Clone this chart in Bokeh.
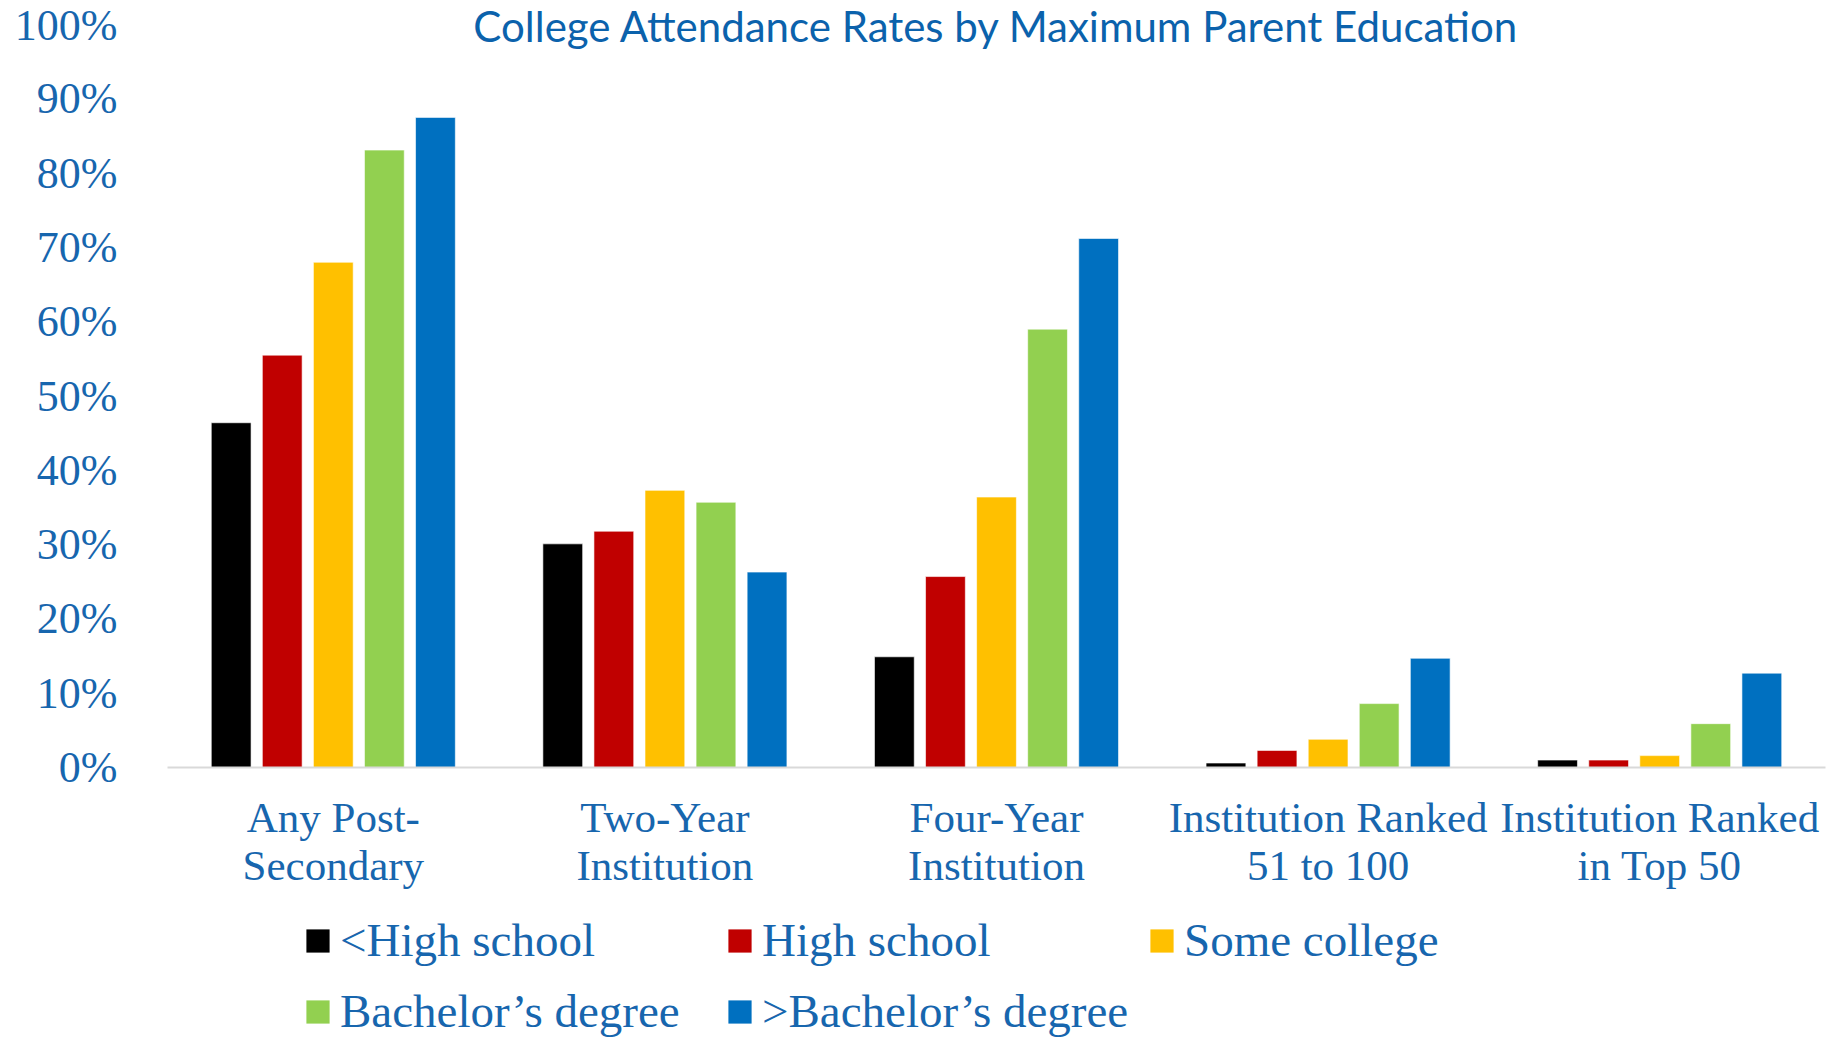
from bokeh.plotting import figure
from bokeh.layouts import column
from bokeh.models import Range1d, FixedTicker, Label, Legend, LegendItem, ColumnDataSource
from bokeh.embed import file_html
from bokeh.resources import INLINE

# ---------------- data ----------------
categories = [
    "Any Post-\nSecondary",
    "Two-Year\nInstitution",
    "Four-Year\nInstitution",
    "Institution Ranked\n51 to 100",
    "Institution Ranked\nin Top 50",
]
series_names = ["<High school", "High school", "Some college",
                "Bachelor\u2019s degree", ">Bachelor\u2019s degree"]
less_than_hs = [46.4, 30.1, 14.9, 0.6, 1.0]
high_school = [55.5, 31.8, 25.7, 2.3, 1.0]
some_college = [68.0, 37.3, 36.4, 3.8, 1.6]
bachelors = [83.1, 35.7, 59.0, 8.6, 5.9]
above_bachelors = [87.5, 26.3, 71.2, 14.7, 12.7]
series_colors = ["#000000", "#C00000", "#FFC000", "#92D050", "#0070C0"]
y_ticks = [0, 10, 20, 30, 40, 50, 60, 70, 80, 90, 100]
y_tick_labels = ["0%", "10%", "20%", "30%", "40%", "50%", "60%", "70%", "80%", "90%", "100%"]
title_text = "College Attendance Rates by Maximum Parent Education"

TEXT = "#1766AE"
SERIF = "Liberation Serif"

W = 1831
H_MAIN = 910
H_LEG = 128
PX = 7.43                 # pixels per percentage point
Y_TOP = 100 + 24 / PX     # frame top sits 24px above the 100% line

p = figure(width=W, height=H_MAIN, output_backend="svg", toolbar_location=None,
           x_range=Range1d(0, len(categories)), y_range=Range1d(0, Y_TOP),
           min_border_left=167, min_border_right=6, min_border_top=0,
           min_border_bottom=H_MAIN - 767)
p.outline_line_color = None
p.xgrid.grid_line_color = None
p.ygrid.grid_line_color = None
p.background_fill_color = "white"
p.border_fill_color = "white"

all_series = [less_than_hs, high_school, some_college, bachelors, above_bachelors]
pitch = 0.154
bar_w = 0.12
renderers = []
for j, (vals, col) in enumerate(zip(all_series, series_colors)):
    xs = [i + 0.5 + (j - 2) * pitch for i in range(len(categories))]
    src = ColumnDataSource(dict(x=xs, top=vals))
    r = p.vbar(x="x", top="top", bottom=0, width=bar_w, source=src,
               fill_color=col, line_color="white", line_width=0.6)
    renderers.append(r)

# x axis
xa = p.xaxis[0]
xa.ticker = FixedTicker(ticks=[i + 0.5 for i in range(len(categories))])
xa.major_label_overrides = {i + 0.5: c for i, c in enumerate(categories)}
xa.major_tick_line_color = None
xa.minor_tick_line_color = None
xa.axis_line_color = "#D9D9D9"
xa.axis_line_width = 2
xa.major_label_text_font = SERIF
xa.major_label_text_font_size = "43px"
xa.major_label_text_line_height = 1.04
xa.major_label_text_color = TEXT
xa.major_label_standoff = 20

# y axis
ya = p.yaxis[0]
ya.ticker = FixedTicker(ticks=y_ticks)
ya.major_label_overrides = {t: l for t, l in zip(y_ticks, y_tick_labels)}
ya.axis_line_color = None
ya.major_tick_line_color = None
ya.minor_tick_line_color = None
ya.major_label_text_font = SERIF
ya.major_label_text_font_size = "44px"
ya.major_label_text_color = TEXT
ya.major_label_standoff = 44

# title (inside the frame, at the top)
p.add_layout(Label(x=len(categories) / 2, y=Y_TOP - 25 / PX, text=title_text,
                   text_align="center", text_baseline="alphabetic",
                   text_font="Lato", text_font_size="42px",
                   text_color="#0B62AC"))

# legend in its own strip below
lg = figure(width=W, height=H_LEG, output_backend="svg", toolbar_location=None,
            x_axis_type=None, y_axis_type=None,
            x_range=Range1d(0, 1), y_range=Range1d(0, 1),
            min_border=0, min_border_left=0, min_border_right=0,
            min_border_top=0, min_border_bottom=0)
lg.outline_line_color = None
lg.xgrid.grid_line_color = None
lg.ygrid.grid_line_color = None
leg_renderers = []
for col in series_colors:
    # zero-area bar: only its colour is used, by the legend swatch
    leg_renderers.append(lg.vbar(x=[0.5], top=[0], bottom=[0], width=0,
                                 fill_color=col, line_color=None))
items = [LegendItem(label=n, renderers=[r]) for n, r in zip(series_names, leg_renderers)]
legend = Legend(items=items, ncols=3, orientation="horizontal",
                location=(136, 0),
                label_text_font=SERIF, label_text_font_size="47px",
                label_text_color=TEXT,
                glyph_width=29, glyph_height=29, label_standoff=8,
                label_height=54, label_width=368, spacing=17,
                padding=0, margin=0, border_line_color=None,
                background_fill_alpha=0)
lg.add_layout(legend)

layout = column(p, lg, spacing=0)
open("out.html", "w").write(file_html(layout, INLINE))
